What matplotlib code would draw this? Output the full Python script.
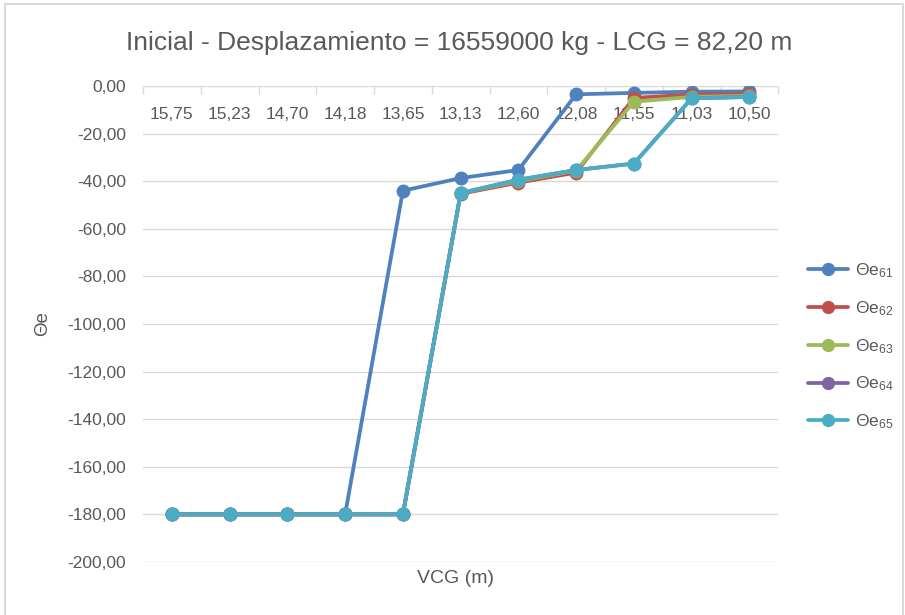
import numpy as np
import matplotlib
matplotlib.use("Agg")
import matplotlib.pyplot as plt
from matplotlib.patches import Rectangle

# VCG categories (m), from high to low
vcg = ["15,75", "15,23", "14,70", "14,18", "13,65", "13,13",
       "12,60", "12,08", "11,55", "11,03", "10,50"]

# equilibrium heel angle for each condition
theta_61 = [-180, -180, -180, -180, -44.0, -38.7, -35.3, -3.5, -2.9, -2.4, -2.3]
theta_62 = [-180, -180, -180, -180, -180, -45.3, -40.6, -36.4, -5.0, -3.6, -3.4]
theta_63 = [-180, -180, -180, -180, -180, -45.0, -40.0, -35.6, -6.6, -4.6, -4.1]
theta_64 = [-180, -180, -180, -180, -180, -45.0, -39.4, -35.3, -32.6, -5.2, -4.6]
theta_65 = [-180, -180, -180, -180, -180, -45.0, -39.4, -35.3, -32.6, -5.2, -4.6]

series = [theta_61, theta_62, theta_63, theta_64, theta_65]
labels = ["\u0398e$_{61}$", "\u0398e$_{62}$", "\u0398e$_{63}$", "\u0398e$_{64}$", "\u0398e$_{65}$"]
colors = ["#4F81BD", "#C0504D", "#9BBB59", "#8064A2", "#4BACC6"]

plt.rcParams["font.family"] = ["Liberation Sans", "DejaVu Sans"]
plt.rcParams["mathtext.default"] = "regular"
text_color = "#595959"

fig = plt.figure(figsize=(9.05, 6.15), dpi=100)
ax = fig.add_axes([0.158, 0.0862, 0.702, 0.774])

x = np.arange(len(vcg))
for vals, lab, col in zip(series, labels, colors):
    ax.plot(x, vals, color=col, lw=2.7, marker="o", ms=9, label=lab,
            solid_capstyle="round")

ax.set_xlim(-0.5, len(vcg) - 0.5)
ax.set_ylim(-200, 0)
ax.set_yticks(np.arange(-200, 1, 20))
ax.set_yticklabels([f"{v:.2f}".replace(".", ",") for v in np.arange(-200, 1, 20)])
ax.grid(axis="y", color="#D9D9D9", lw=1)
ax.set_axisbelow(True)
for s in ax.spines.values():
    s.set_visible(False)

# category labels sit just under the zero line
ax.set_xticks(x)
ax.set_xticklabels(vcg)
ax.xaxis.set_ticks_position("top")
ax.tick_params(axis="x", top=True, bottom=False, labeltop=True, labelbottom=False,
               length=0, pad=-26, labelsize=12.5, labelcolor=text_color)
ax.set_xticks(np.arange(-0.5, len(vcg), 1), minor=True)
ax.tick_params(axis="x", which="minor", top=True, bottom=False, direction="in",
               length=6, color="#D9D9D9", width=1)
ax.tick_params(axis="y", length=0, pad=12, labelsize=12.5, labelcolor=text_color)

ax.set_ylabel("\u0398e", fontsize=13.5, color=text_color, labelpad=12)
fig.text(0.503, 0.059, "VCG (m)", ha="center", va="center", fontsize=14, color=text_color)
fig.text(0.507, 0.930, "Inicial - Desplazamiento = 16559000 kg - LCG = 82,20 m",
         ha="center", va="center", fontsize=19, color=text_color)

leg = ax.legend(loc="upper left", bbox_to_anchor=(0.893, 0.575), bbox_transform=fig.transFigure,
                frameon=False, fontsize=12.5, handlelength=2.3, handletextpad=0.4,
                borderpad=0, borderaxespad=0,
                labelspacing=1.1, labelcolor=text_color, markerscale=0.95)

fig.patches.append(Rectangle((0.005, -0.01), 0.993, 1.003, transform=fig.transFigure,
                             fill=False, edgecolor="#D9D9D9", lw=1.5))

fig.savefig("out.png", dpi=100)
